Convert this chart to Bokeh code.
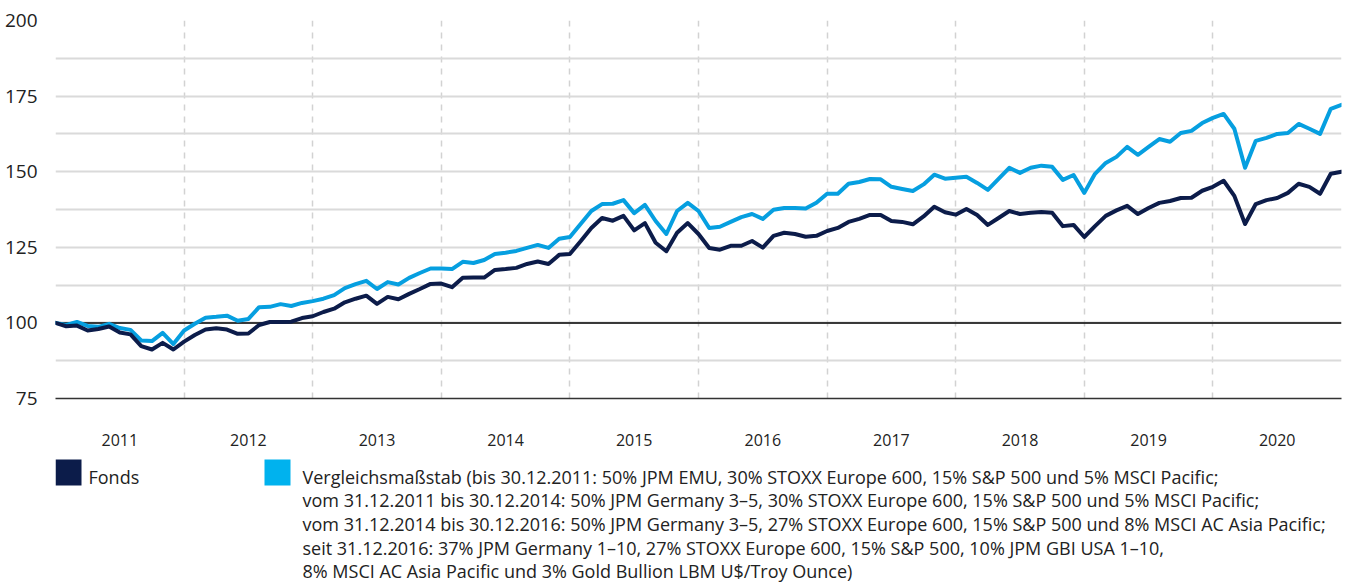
import numpy as np
from bokeh.plotting import figure
from bokeh.models import Range1d, FixedTicker, Span, ColumnDataSource
from bokeh.layouts import column
from bokeh.core.properties import value
from bokeh.embed import file_html
from bokeh.resources import INLINE

# ---- data (month-end index values, 31.12.2010 = 100) ----
fonds = [100, 98.9, 99.1, 97.5, 98, 98.8, 96.8, 96.2, 92.3, 91.2, 93.4, 91.2,
         93.8, 96, 97.8, 98.2, 97.8, 96.4, 96.5, 99.3, 100.3, 100.3, 100.4, 101.6,
         102.2, 103.6, 104.7, 106.8, 108, 109, 106.3, 108.6, 107.8, 109.6, 111.2, 112.9,
         113, 111.8, 114.9, 115, 115, 117.5, 117.8, 118.2, 119.5, 120.3, 119.5, 122.5,
         122.8, 127, 131.4, 134.7, 133.8, 135.4, 130.6, 133, 126.5, 123.7, 129.8, 133,
         129.4, 124.8, 124.2, 125.5, 125.5, 127.1, 124.9, 128.8, 129.8, 129.4, 128.5, 128.8,
         130.4, 131.4, 133.4, 134.4, 135.7, 135.7, 133.7, 133.4, 132.6, 135.2, 138.4, 136.6,
         135.8, 137.7, 135.7, 132.4, 134.7, 137, 136, 136.4, 136.7, 136.4, 132, 132.4,
         128.4, 132, 135.4, 137.2, 138.7, 136, 138, 139.7, 140.3, 141.3, 141.4, 143.7,
         145, 147, 142, 132.7, 139.3, 140.6, 141.3, 143, 146, 145, 142.7, 149.3,
         150]
bench = [100, 99.3, 100.3, 99, 98.7, 99.7, 98.3, 97.7, 94.2, 94, 96.7, 93,
         97.5, 99.7, 101.7, 102, 102.4, 100.7, 101.3, 105.2, 105.3, 106.2, 105.6, 106.6,
         107.2, 108, 109.2, 111.5, 112.8, 113.9, 111.2, 113.5, 112.7, 114.9, 116.5, 118,
         118, 117.8, 120.2, 119.8, 120.8, 122.8, 123.2, 123.8, 124.8, 125.8, 124.8, 127.8,
         128.4, 132.7, 137, 139.3, 139.4, 140.6, 136.3, 139, 133.7, 129.4, 137, 139.7,
         137, 131.4, 131.8, 133.4, 135, 136, 134.4, 137.4, 138, 138, 137.8, 139.7,
         142.7, 142.7, 146, 146.6, 147.6, 147.5, 145, 144.3, 143.6, 145.8, 149, 147.7,
         148, 148.3, 146.3, 144, 147.6, 151.3, 149.6, 151.3, 152, 151.6, 147.3, 148.9,
         143, 149.3, 152.9, 154.9, 158.2, 155.6, 158.2, 160.8, 159.9, 162.8, 163.5, 166.1,
         167.8, 169.1, 164.2, 151.3, 160.2, 161.2, 162.5, 162.8, 165.8, 164.2, 162.5, 170.8,
         172.1]
year_labels = ["2011", "2012", "2013", "2014", "2015", "2016", "2017", "2018", "2019", "2020"]
y_ticks = [75, 100, 125, 150, 175, 200]

legend_fonds = "Fonds"
legend_bench_lines = [
    "Vergleichsmaßstab (bis 30.12.2011: 50% JPM EMU, 30% STOXX Europe 600, 15% S&P 500 und 5% MSCI Pacific;",
    "vom 31.12.2011 bis 30.12.2014: 50% JPM Germany 3–5, 30% STOXX Europe 600, 15% S&P 500 und 5% MSCI Pacific;",
    "vom 31.12.2014 bis 30.12.2016: 50% JPM Germany 3–5, 27% STOXX Europe 600, 15% S&P 500 und 8% MSCI AC Asia Pacific;",
    "seit 31.12.2016: 37% JPM Germany 1–10, 27% STOXX Europe 600, 15% S&P 500, 10% JPM GBI USA 1–10,",
    "8% MSCI AC Asia Pacific und 3% Gold Bullion LBM U$/Troy Ounce)",
]

FONT = "Open Sans"
NAVY = "#0c1c4a"
BLUE = "#069fe0"
BLUE_LEG = "#00b2ee"
TXT = "#222222"

W = 1349
LEFT = 55
RIGHT = 8

start_year = int(year_labels[0])
n_years = len(year_labels)
x = start_year + np.arange(len(fonds)) / 12.0
src = ColumnDataSource(data=dict(x=x, fonds=fonds, bench=bench))

p = figure(width=W, height=456,
           min_border_left=LEFT, min_border_right=RIGHT, min_border_top=20, min_border_bottom=58,
           x_range=Range1d(start_year, start_year + n_years), y_range=Range1d(75, 200),
           output_backend="svg", toolbar_location=None)
p.outline_line_color = None
p.background_fill_color = "white"

# grids
p.ygrid.ticker = FixedTicker(ticks=list(np.arange(75, 200.1, 12.5)))
p.ygrid.grid_line_color = "#dadada"
p.ygrid.grid_line_width = 2
p.xgrid.ticker = FixedTicker(ticks=[start_year + k for k in range(1, n_years)])
p.xgrid.grid_line_color = "#d2d2d2"
p.xgrid.grid_line_width = 1.5
p.xgrid.grid_line_dash = "6 6"

# axes
p.yaxis.ticker = FixedTicker(ticks=y_ticks)
p.yaxis.axis_line_color = None
p.yaxis.major_tick_line_color = None
p.yaxis.minor_tick_line_color = None
p.yaxis.major_label_standoff = 12
p.yaxis.major_label_text_font = FONT
p.yaxis.major_label_text_font_size = "19px"
p.yaxis.major_label_text_color = TXT

mids = [start_year + k + 0.5 for k in range(n_years)]
p.xaxis.ticker = FixedTicker(ticks=mids)
p.xaxis.major_label_overrides = {m: lab for m, lab in zip(mids, year_labels)}
p.xaxis.axis_line_color = "#333333"
p.xaxis.axis_line_width = 1.5
p.xaxis.major_tick_line_color = None
p.xaxis.minor_tick_line_color = None
p.xaxis.major_label_standoff = 29
p.xaxis.major_label_text_font = FONT
p.xaxis.major_label_text_font_size = "16px"
p.xaxis.major_label_text_color = TXT

p.add_layout(Span(location=100, dimension="width", line_color="#000000",
                  line_width=1.5, level="underlay"))

p.line("x", "bench", source=src, line_color=BLUE, line_width=4, line_join="round", line_cap="round")
p.line("x", "fonds", source=src, line_color=NAVY, line_width=4, line_join="round", line_cap="round")

# legend panel (x in page pixels, y in pixels from panel top)
LH = 130
lg = figure(width=W, height=LH, x_range=Range1d(LEFT, W - RIGHT), y_range=Range1d(LH, 0),
            x_axis_location=None, y_axis_location=None,
            min_border_left=LEFT, min_border_right=RIGHT, min_border_top=0, min_border_bottom=0,
            output_backend="svg", toolbar_location=None)
lg.grid.visible = False
lg.outline_line_color = None

lg.rect(x=[68, 277], y=[16, 16], width=26, height=26, fill_color=[NAVY, BLUE_LEG], line_color=None)
lg.text(x=[88], y=[20], text=[legend_fonds], text_font=value(FONT), text_font_size="18px",
        text_color=TXT, text_baseline="middle", text_align="left")
ys = [20 + 23.7 * i for i in range(len(legend_bench_lines))]
lg.text(x=[302] * len(ys), y=ys, text=legend_bench_lines, text_font=value(FONT),
        text_font_size="18px", text_color=TXT, text_baseline="middle", text_align="left")

layout = column(p, lg, spacing=0)
open("out.html", "w").write(file_html(layout, INLINE))
